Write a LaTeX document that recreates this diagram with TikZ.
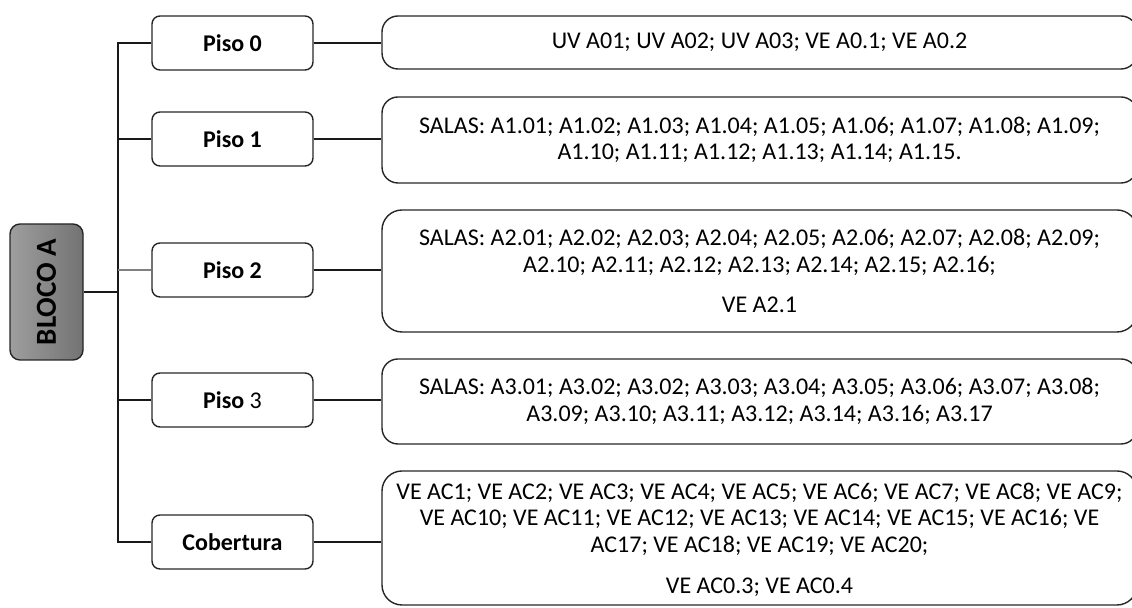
\documentclass[tikz,border=0pt]{standalone}
\usepackage{fontspec}
\setmainfont{Carlito}
\begin{document}
\begin{tikzpicture}[x=0.5pt, y=-0.5pt,
  bloco/.style={draw=black!85, line width=0.7pt, rounded corners=5pt, left color=black!38, right color=black!55,
    minimum width=68pt, minimum height=36.5pt, inner sep=0pt, font=\fontsize{14.5}{16}\selectfont\bfseries},
  piso/.style={draw=black!85, line width=0.7pt, rounded corners=4pt, minimum width=80.5pt, minimum height=27pt,
    inner sep=0pt, font=\fontsize{12}{14}\selectfont\bfseries},
  lista/.style={draw=black!85, line width=0.7pt, rounded corners=8pt, minimum width=377.5pt, align=center,
    inner sep=0pt, font=\fontsize{12}{13.3}\selectfont},
  liga/.style={line width=0.6pt, black!90}]
  \useasboundingbox (0,0) rectangle (1132,608);

  % Bloco
  \node[bloco, rotate=90] (bloco) at (46.5,292) {BLOCO A};

  % Pisos
  \node[piso] (piso0) at (232.5,43) {Piso 0};
  \node[piso] (piso1) at (232.5,139) {Piso 1};
  \node[piso] (piso2) at (232.5,270) {Piso 2};
  \node[piso] (piso3) at (232.5,400) {Piso \textmd{3}};
  \node[piso] (cob) at (232.5,542) {Cobertura};

  % Listas de salas
  \node[lista, minimum height=26.5pt] (sala0) at (759.5,42.5) {UV A01; UV A02; UV A03; VE A0.1; VE A0.2};
  \node[lista, minimum height=43pt] (sala1) at (759.5,140)
    {SALAS: A1.01; A1.02; A1.03; A1.04; A1.05; A1.06; A1.07; A1.08; A1.09;\\
     A1.10; A1.11; A1.12; A1.13; A1.14; A1.15.};
  \node[lista, minimum height=61pt, rounded corners=10pt, text depth=0pt] (sala2) at (759.5,271)
    {SALAS: A2.01; A2.02; A2.03; A2.04; A2.05; A2.06; A2.07; A2.08; A2.09;\\
     A2.10; A2.11; A2.12; A2.13; A2.14; A2.15; A2.16;\\[7pt]
     VE A2.1};
  \node[lista, minimum height=42.5pt] (sala3) at (759.5,401.5)
    {SALAS: A3.01; A3.02; A3.02; A3.03; A3.04; A3.05; A3.06; A3.07; A3.08;\\
     A3.09; A3.10; A3.11; A3.12; A3.14; A3.16; A3.17};
  \node[lista, minimum height=67pt, rounded corners=10pt, text depth=0pt] (sala4) at (759.5,538)
    {VE AC1; VE AC2; VE AC3; VE AC4; VE AC5; VE AC6; VE AC7; VE AC8; VE AC9;\\
     VE AC10; VE AC11; VE AC12; VE AC13; VE AC14; VE AC15; VE AC16; VE\\
     AC17; VE AC18; VE AC19; VE AC20;\\[7pt]
     VE AC0.3; VE AC0.4};

  % Ligacoes
  \coordinate (tronco) at (118,292);
  \draw[liga] (bloco.south) -- (tronco);
  \foreach \p in {piso0,piso1,piso3,cob}
    \draw[liga] (\p.west) -| (tronco);
  \draw[liga] (tronco) -- (tronco |- piso2.west);
  \draw[line width=0.6pt, black!50] (piso2.west) -- (piso2.west -| tronco);
  \foreach \p/\s in {piso0/sala0,piso1/sala1,piso2/sala2,piso3/sala3,cob/sala4}
    \draw[liga] (\p.east) -- (\p.east -| \s.west);
\end{tikzpicture}
\end{document}
